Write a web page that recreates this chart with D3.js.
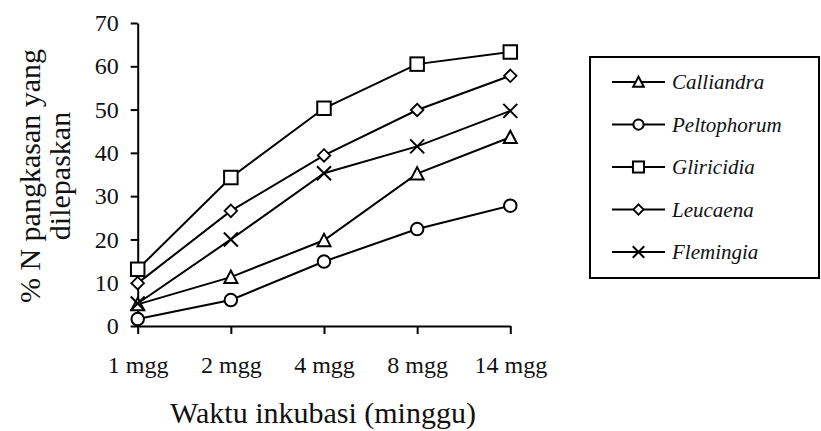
<!DOCTYPE html>
<html><head><meta charset="utf-8">
<script src="https://cdn.jsdelivr.net/npm/d3@7"></script>
<style>body{margin:0;background:#fff}svg{display:block}
svg text{font-family:"Liberation Serif","Times New Roman",Times,serif !important}
</style>
</head><body>
<svg id="c" width="821" height="431"></svg>
<script>
const categories = ["1 mgg","2 mgg","4 mgg","8 mgg","14 mgg"];
const seriesNames = ["Calliandra","Peltophorum","Gliricidia","Leucaena","Flemingia"];
const seriesSymbols = ["triangle","circle","square","diamond","cross"];
const calliandra = [5.0, 11.3, 19.8, 35.2, 43.6];
const peltophorum = [1.6, 6.0, 14.9, 22.4, 27.8];
const gliricidia = [13.1, 34.3, 50.3, 60.5, 63.3];
const leucaena = [9.9, 26.6, 39.4, 49.9, 57.8];
const flemingia = [5.2, 20.0, 35.3, 41.5, 49.7];
const yTicks = [0,10,20,30,40,50,60,70];
const yTitle = ["% N pangkasan yang","dilepaskan"];
const xTitle = "Waktu inkubasi (minggu)";

const seriesValues = [calliandra, peltophorum, gliricidia, leucaena, flemingia];
const FONT = "Liberation Serif";
const svg = d3.select("#c");

const x = d3.scalePoint().domain(categories).range([137.7, 510.3]).padding(0);
const y = d3.scaleLinear().domain([0,70]).range([326, 23]);

const gy = svg.append("g").attr("transform","translate(137.7,0)")
  .call(d3.axisLeft(y).tickValues(yTicks).tickSize(7).tickSizeOuter(0).tickPadding(12).tickFormat(d3.format("d")));
const gx = svg.append("g").attr("transform","translate(0,326)")
  .call(d3.axisBottom(x).tickSize(8).tickSizeOuter(0));
[gx, gy].forEach(g => {
  g.attr("font-family", FONT).attr("font-size", 24);
  g.selectAll("path.domain").attr("stroke","#000").attr("stroke-width",2);
  g.selectAll(".tick line").attr("stroke","#000").attr("stroke-width",2);
  g.selectAll("text").attr("fill","#111");
});
gx.selectAll("text").attr("y",47).attr("dy","0");

function drawSymbol(g, type, cx, cy, s) {
  const h = s/2;
  if (type === "square") {
    g.append("rect").attr("x",cx-h).attr("y",cy-h).attr("width",s).attr("height",s)
      .attr("fill","#fff").attr("stroke","#000").attr("stroke-width",2);
  } else if (type === "circle") {
    g.append("circle").attr("cx",cx).attr("cy",cy).attr("r",h)
      .attr("fill","#fff").attr("stroke","#000").attr("stroke-width",2);
  } else if (type === "diamond") {
    g.append("path").attr("d",`M${cx},${cy-h}L${cx+h},${cy}L${cx},${cy+h}L${cx-h},${cy}Z`)
      .attr("fill","#fff").attr("stroke","#000").attr("stroke-width",1.8);
  } else if (type === "triangle") {
    g.append("path").attr("d",`M${cx},${cy-h}L${cx+h},${cy+h*0.9}L${cx-h},${cy+h*0.9}Z`)
      .attr("fill","#fff").attr("stroke","#000").attr("stroke-width",2);
  } else if (type === "cross") {
    g.append("path").attr("d",`M${cx-h},${cy-h}L${cx+h},${cy+h}M${cx-h},${cy+h}L${cx+h},${cy-h}`)
      .attr("fill","none").attr("stroke","#000").attr("stroke-width",2);
  }
}
const symSize = {triangle:13, circle:12.5, square:13.5, diamond:12.5, cross:14};

const line = d3.line().x((d,i)=>x(categories[i])).y(d=>y(d));
seriesValues.forEach((vals, si) => {
  const g = svg.append("g");
  g.append("path").datum(vals).attr("d", line).attr("fill","none").attr("stroke","#000").attr("stroke-width",2);
  vals.forEach((v,i) => drawSymbol(g, seriesSymbols[si], x(categories[i]), y(v), symSize[seriesSymbols[si]]));
});

const yt = svg.append("text").attr("transform","translate(40,176) rotate(-90)")
  .attr("text-anchor","middle").attr("fill","#111").attr("font-family",FONT).attr("font-size",30);
yt.append("tspan").attr("x",0).attr("y",0).text(yTitle[0]);
yt.append("tspan").attr("x",0).attr("y",30).text(yTitle[1]);
svg.append("text").attr("x",323).attr("y",423).attr("text-anchor","middle").attr("fill","#111")
  .attr("font-family",FONT).attr("font-size",30).text(xTitle);

svg.append("rect").attr("x",590).attr("y",57).attr("width",229).attr("height",221)
  .attr("fill","#fff").attr("stroke","#000").attr("stroke-width",2);
const legY = d3.scalePoint().domain(seriesNames).range([82, 252]);
seriesNames.forEach((n, si) => {
  const g = svg.append("g");
  const cy = legY(n);
  g.append("line").attr("x1",612).attr("x2",665).attr("y1",cy).attr("y2",cy).attr("stroke","#000").attr("stroke-width",2);
  drawSymbol(g, seriesSymbols[si], 638.5, cy, symSize[seriesSymbols[si]]*0.82);
  g.append("text").attr("x",672).attr("y",cy+7).attr("fill","#111").attr("font-family",FONT)
    .attr("font-style","italic").attr("font-size",21).text(n);
});
</script>
</body></html>
